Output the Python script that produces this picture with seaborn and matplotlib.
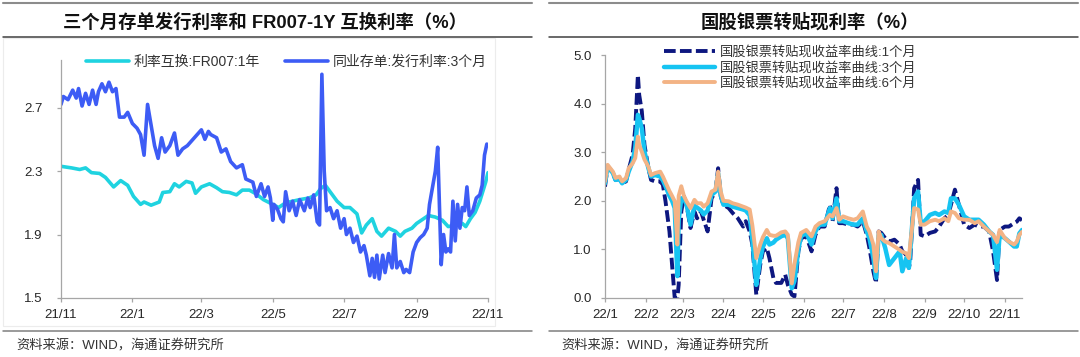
import matplotlib
matplotlib.use("Agg")
import matplotlib.pyplot as plt
from matplotlib.lines import Line2D
from matplotlib.patches import Rectangle
import seaborn as sns
import pandas as pd

# ---- left panel: FR007 1Y swap vs 3M NCD issuance rate ----
swap_label = "利率互换:FR007:1年"
swap_dates = [
    "2021-11-01", "2021-11-10", "2021-11-17", "2021-11-22", "2021-11-27", "2021-12-04",
    "2021-12-09", "2021-12-16", "2021-12-22", "2021-12-28", "2022-01-02", "2022-01-08",
    "2022-01-11", "2022-01-17", "2022-01-24", "2022-01-27", "2022-02-02", "2022-02-06",
    "2022-02-10", "2022-02-16", "2022-02-21", "2022-02-24", "2022-03-01", "2022-03-08",
    "2022-03-14", "2022-03-19", "2022-03-25", "2022-03-31", "2022-04-05", "2022-04-11",
    "2022-04-17", "2022-04-23", "2022-05-01", "2022-05-06", "2022-05-12", "2022-05-18",
    "2022-05-24", "2022-06-01", "2022-06-07", "2022-06-11", "2022-06-15", "2022-06-19",
    "2022-06-25", "2022-07-01", "2022-07-06", "2022-07-12", "2022-07-16", "2022-07-20",
    "2022-07-25", "2022-07-29", "2022-08-02", "2022-08-08", "2022-08-14", "2022-08-18",
    "2022-08-22", "2022-08-28", "2022-09-01", "2022-09-07", "2022-09-11", "2022-09-17",
    "2022-09-23", "2022-09-28", "2022-10-04", "2022-10-10", "2022-10-13", "2022-10-17",
    "2022-10-21", "2022-10-25", "2022-10-30", "2022-11-01",
]
swap_vals = [
    2.33, 2.32, 2.31, 2.32, 2.29, 2.285,
    2.26, 2.20, 2.24, 2.21, 2.14, 2.09,
    2.105, 2.085, 2.105, 2.165, 2.17, 2.22,
    2.20, 2.235, 2.225, 2.16, 2.20, 2.22,
    2.195, 2.17, 2.165, 2.15, 2.18, 2.18,
    2.155, 2.12, 2.09, 2.07, 2.10, 2.11,
    2.12, 2.13, 2.15, 2.19, 2.21, 2.17,
    2.11, 2.07, 2.07, 2.03, 1.91, 1.96,
    2.00, 1.92, 1.89, 1.94, 1.92, 1.89,
    1.92, 1.94, 1.97, 2.00, 2.02, 2.01,
    1.99, 1.95, 1.96, 1.97, 1.95, 2.00,
    2.04, 2.11, 2.23, 2.29,
]

ncd_label = "同业存单:发行利率:3个月"
ncd_dates = [
    "2021-11-01", "2021-11-03", "2021-11-07", "2021-11-11", "2021-11-14", "2021-11-16",
    "2021-11-19", "2021-11-22", "2021-11-25", "2021-11-28", "2021-12-01", "2021-12-03",
    "2021-12-06", "2021-12-09", "2021-12-12", "2021-12-15", "2021-12-18", "2021-12-21",
    "2021-12-25", "2021-12-28", "2022-01-01", "2022-01-05", "2022-01-08", "2022-01-11",
    "2022-01-14", "2022-01-17", "2022-01-20", "2022-01-23", "2022-01-26", "2022-01-29",
    "2022-02-02", "2022-02-06", "2022-02-09", "2022-02-13", "2022-02-17", "2022-02-23",
    "2022-03-01", "2022-03-04", "2022-03-07", "2022-03-09", "2022-03-14", "2022-03-18",
    "2022-03-22", "2022-03-26", "2022-03-31", "2022-04-05", "2022-04-08", "2022-04-14",
    "2022-04-17", "2022-04-21", "2022-04-24", "2022-04-27", "2022-04-29", "2022-05-01",
    "2022-05-02", "2022-05-05", "2022-05-08", "2022-05-10", "2022-05-12", "2022-05-15",
    "2022-05-18", "2022-05-21", "2022-05-24", "2022-05-28", "2022-05-31", "2022-06-02",
    "2022-06-05", "2022-06-08", "2022-06-10", "2022-06-12", "2022-06-14", "2022-06-16",
    "2022-06-19", "2022-06-22", "2022-06-25", "2022-06-28", "2022-07-01", "2022-07-03",
    "2022-07-06", "2022-07-09", "2022-07-12", "2022-07-15", "2022-07-18", "2022-07-20",
    "2022-07-23", "2022-07-25", "2022-07-27", "2022-07-29", "2022-07-31", "2022-08-03",
    "2022-08-05", "2022-08-08", "2022-08-11", "2022-08-13", "2022-08-15", "2022-08-18",
    "2022-08-21", "2022-08-23", "2022-08-26", "2022-08-29", "2022-09-01", "2022-09-04",
    "2022-09-07", "2022-09-10", "2022-09-12", "2022-09-17", "2022-09-19", "2022-09-22",
    "2022-09-24", "2022-09-26", "2022-09-28", "2022-09-30", "2022-10-02", "2022-10-04",
    "2022-10-06", "2022-10-08", "2022-10-10", "2022-10-12", "2022-10-14", "2022-10-16",
    "2022-10-19", "2022-10-22", "2022-10-25", "2022-10-27", "2022-10-29", "2022-10-31",
]
ncd_vals = [
    2.72, 2.77, 2.75, 2.81, 2.76, 2.82,
    2.71, 2.79, 2.72, 2.81, 2.72, 2.80,
    2.85, 2.80, 2.86, 2.80, 2.82, 2.64,
    2.64, 2.67, 2.60, 2.57, 2.53, 2.40,
    2.72, 2.59, 2.46, 2.38, 2.51, 2.42,
    2.46, 2.54, 2.40, 2.44, 2.46, 2.51,
    2.56, 2.50, 2.55, 2.53, 2.51, 2.42,
    2.44, 2.36, 2.32, 2.34, 2.25, 2.23,
    2.14, 2.22, 2.14, 2.20, 2.13, 1.99,
    2.09, 2.06, 2.00, 1.98, 2.17, 2.05,
    2.11, 2.02, 2.12, 2.05, 2.13, 2.07,
    2.15, 1.98, 1.96, 2.91, 2.30, 2.05,
    2.07, 2.00, 2.05, 1.94, 2.00, 1.90,
    1.94, 1.85, 1.89, 1.79, 1.83, 1.77,
    1.64, 1.75, 1.63, 1.77, 1.62, 1.77,
    1.66, 1.78, 1.69, 1.90, 1.69, 1.73,
    1.66, 1.68, 1.66, 1.79, 1.85, 1.88,
    1.90, 1.94, 2.09, 2.30, 2.45, 1.71,
    1.90, 1.79, 1.81, 1.79, 2.11, 1.86,
    2.09, 1.94, 2.07, 2.05, 2.20, 2.02,
    2.05, 2.13, 2.15, 2.21, 2.40, 2.47,
]
left_yticks = [1.5, 1.9, 2.3, 2.7]
left_xtick_dates = ["2021-11-01", "2022-01-01", "2022-03-01", "2022-05-01",
                    "2022-07-01", "2022-09-01", "2022-11-01"]
left_xtick_labels = ["21/11", "22/1", "22/3", "22/5", "22/7", "22/9", "22/11"]

# ---- right panel: bill rediscount yields ----
m1_label = "国股银票转贴现收益率曲线:1个月"
m3_label = "国股银票转贴现收益率曲线:3个月"
m6_label = "国股银票转贴现收益率曲线:6个月"
r_dates = [
    "2022-01-01", "2022-01-03", "2022-01-07", "2022-01-09", "2022-01-12", "2022-01-14",
    "2022-01-17", "2022-01-19", "2022-01-22", "2022-01-24", "2022-01-26", "2022-01-27",
    "2022-01-29", "2022-01-31",
    "2022-02-03", "2022-02-05", "2022-02-08", "2022-02-12", "2022-02-14", "2022-02-16",
    "2022-02-19", "2022-02-21", "2022-02-23", "2022-02-25", "2022-02-26", "2022-02-28",
    "2022-03-02", "2022-03-04", "2022-03-07", "2022-03-10", "2022-03-12", "2022-03-15",
    "2022-03-17", "2022-03-20", "2022-03-23", "2022-03-26", "2022-03-28", "2022-03-30",
    "2022-04-01", "2022-04-05", "2022-04-08", "2022-04-12", "2022-04-16", "2022-04-18",
    "2022-04-21", "2022-04-23", "2022-04-25", "2022-04-26", "2022-04-29",
    "2022-05-01", "2022-05-04", "2022-05-06", "2022-05-09", "2022-05-11", "2022-05-15",
    "2022-05-18", "2022-05-20", "2022-05-23", "2022-05-25", "2022-05-28", "2022-05-30",
    "2022-06-03", "2022-06-07", "2022-06-10", "2022-06-13", "2022-06-17", "2022-06-21",
    "2022-06-23", "2022-06-26", "2022-06-28",
    "2022-07-01", "2022-07-05", "2022-07-09", "2022-07-12", "2022-07-16", "2022-07-19",
    "2022-07-21", "2022-07-24", "2022-07-26", "2022-07-28", "2022-07-30",
    "2022-08-02", "2022-08-05", "2022-08-09", "2022-08-13", "2022-08-15", "2022-08-18",
    "2022-08-20", "2022-08-21", "2022-08-24", "2022-08-27", "2022-08-29",
    "2022-09-01", "2022-09-05", "2022-09-09", "2022-09-12", "2022-09-16", "2022-09-19",
    "2022-09-21", "2022-09-24", "2022-09-27",
    "2022-10-01", "2022-10-05", "2022-10-09", "2022-10-12", "2022-10-16", "2022-10-20",
    "2022-10-23", "2022-10-26", "2022-10-28",
    "2022-11-01", "2022-11-04", "2022-11-08", "2022-11-10", "2022-11-12", "2022-11-14",
]
m1_vals = [
    2.29, 2.71, 2.57, 2.43, 2.45, 2.36, 2.40, 2.64, 2.95, 3.49, 4.59, 4.18, 3.84, 3.15,
    2.67, 2.43, 2.40, 2.40, 2.33, 1.99, 1.37, 0.68, 0.00, 0.00, 0.27, 1.78,
    2.09, 1.92, 1.44, 1.78, 1.64, 1.78, 1.61, 1.37, 2.05, 2.19, 2.67, 2.09,
    1.92, 1.85, 1.75, 1.64, 1.47, 1.58, 1.37, 1.10, 0.41, 0.07, 0.68,
    0.96, 1.03, 0.82, 0.41, 0.31, 0.31, 0.48, 0.27, 0.07, 0.03, 0.96, 1.23,
    1.27, 0.96, 1.30, 1.47, 1.47, 1.92, 1.58, 2.26, 1.54,
    1.54, 1.51, 1.51, 1.47, 1.58, 1.30, 1.03, 0.55, 0.31, 1.37, 1.34,
    1.23, 1.16, 1.20, 1.10, 0.96, 0.89, 0.62, 0.75, 2.26, 2.43, 1.30,
    1.27, 1.34, 1.37, 1.47, 1.64, 1.71, 1.92, 2.23, 1.92,
    1.51, 1.44, 1.51, 1.47, 1.47, 1.37, 0.96, 0.37, 1.40,
    1.47, 1.47, 1.54, 1.57, 1.64, 1.60,
]
m3_vals = [
    2.36, 2.71, 2.57, 2.43, 2.45, 2.36, 2.43, 2.60, 2.81, 3.10, 3.77, 3.70, 3.49, 3.01,
    2.67, 2.50, 2.53, 2.50, 2.42, 2.30, 2.10, 2.00, 1.85, 0.45, 1.60, 2.05,
    2.05, 1.92, 1.51, 1.90, 1.86, 1.80, 1.72, 1.80, 2.12, 2.19, 2.57, 2.12,
    1.92, 1.92, 1.88, 1.85, 1.82, 1.80, 1.70, 1.20, 0.60, 0.27, 0.80,
    1.05, 1.23, 1.10, 1.14, 1.20, 1.27, 1.30, 1.23, 0.20, 0.35, 1.00, 1.27,
    1.34, 1.10, 1.37, 1.51, 1.51, 1.85, 1.64, 2.05, 1.58,
    1.58, 1.54, 1.51, 1.51, 1.64, 1.37, 1.23, 0.82, 0.41, 1.30, 1.30,
    1.03, 0.68, 0.82, 0.96, 0.55, 0.82, 0.62, 0.96, 2.05, 2.19, 1.54,
    1.58, 1.71, 1.75, 1.71, 1.78, 1.75, 2.05, 2.05, 1.92,
    1.68, 1.61, 1.61, 1.61, 1.51, 1.37, 1.30, 0.58, 1.30,
    1.23, 1.16, 1.06, 1.06, 1.33, 1.40,
]
m6_vals = [
    2.40, 2.74, 2.60, 2.47, 2.50, 2.40, 2.47, 2.67, 2.77, 2.88, 3.32, 3.15, 3.01, 2.85,
    2.70, 2.53, 2.57, 2.60, 2.50, 2.38, 2.20, 2.10, 1.99, 1.10, 2.10, 2.30,
    2.10, 1.99, 1.85, 2.02, 1.95, 1.95, 1.88, 1.95, 2.19, 2.23, 2.60, 2.19,
    2.00, 1.99, 1.95, 1.92, 1.88, 1.86, 1.82, 1.50, 1.05, 0.82, 1.10,
    1.25, 1.40, 1.30, 1.28, 1.28, 1.35, 1.37, 1.30, 0.30, 0.70, 1.15, 1.34,
    1.40, 1.27, 1.47, 1.54, 1.58, 1.71, 1.68, 1.85, 1.61,
    1.68, 1.64, 1.61, 1.64, 1.78, 1.47, 1.37, 1.10, 0.55, 1.37, 1.23,
    1.16, 1.13, 1.06, 0.99, 0.95, 0.92, 0.82, 1.10, 1.85, 1.82, 1.51,
    1.51, 1.58, 1.61, 1.58, 1.64, 1.58, 1.78, 1.75, 1.64,
    1.61, 1.61, 1.54, 1.58, 1.47, 1.37, 1.30, 1.15, 1.40,
    1.23, 1.16, 1.10, 1.16, 1.30, 1.36,
]
right_yticks = [0, 1, 2, 3, 4, 5]
right_xtick_dates = pd.date_range("2022-01-01", "2022-11-01", freq="MS")
right_xtick_labels = ["22/1", "22/2", "22/3", "22/4", "22/5", "22/6",
                      "22/7", "22/8", "22/9", "22/10", "22/11"]

left_title = "三个月存单发行利率和 FR007-1Y 互换利率（%）"
right_title = "国股银票转贴现利率（%）"
source = "资料来源：WIND，海通证券研究所"

# long-form tables for seaborn
left_df = pd.concat([
    pd.DataFrame({"date": pd.to_datetime(swap_dates), "rate": swap_vals, "series": swap_label}),
    pd.DataFrame({"date": pd.to_datetime(ncd_dates), "rate": ncd_vals, "series": ncd_label}),
])
right_df = pd.DataFrame({"date": pd.to_datetime(r_dates), m1_label: m1_vals,
                         m3_label: m3_vals, m6_label: m6_vals})
right_df = right_df.melt(id_vars="date", var_name="series", value_name="rate")

sns.set_theme(style="white")
plt.rcParams["font.family"] = ["Liberation Sans", "Noto Sans CJK SC"]
plt.rcParams["axes.unicode_minus"] = False

W, H = 1080, 357
fig = plt.figure(figsize=(W / 100, H / 100), dpi=100)


def px_box(l, t, r, b):
    return [l / W, 1 - b / H, (r - l) / W, (b - t) / H]


def hline(x0, x1, y, color, lw):
    fig.add_artist(Line2D([x0 / W, x1 / W], [1 - y / H, 1 - y / H],
                          transform=fig.transFigure, color=color, lw=lw))


# faint frame around left chart area
fig.add_artist(Rectangle((3 / W, 1 - 326 / H), 492 / W, 288 / H, transform=fig.transFigure,
                         fill=False, edgecolor="#ececec", lw=0.8))

ax1 = fig.add_axes(px_box(61, 60, 488, 298))
ax2 = fig.add_axes(px_box(605, 55, 1022, 298))

sns.lineplot(data=left_df, x="date", y="rate", hue="series",
             hue_order=[swap_label, ncd_label],
             palette=["#1fd3e0", "#3d5cf5"], linewidth=2.6, errorbar=None, ax=ax1)

sns.lineplot(data=right_df, x="date", y="rate", hue="series", style="series", size="series",
             hue_order=[m1_label, m3_label, m6_label],
             palette=["#0d1780", "#16c4f2", "#f3b385"],
             dashes={m1_label: (3, 1.1), m3_label: "", m6_label: ""},
             sizes={m1_label: 2.8, m3_label: 3.2, m6_label: 2.8},
             errorbar=None, ax=ax2)

for ax in (ax1, ax2):
    sns.despine(ax=ax)
    for s in ("left", "bottom"):
        ax.spines[s].set_color("#a6a6a6")
        ax.spines[s].set_linewidth(0.9)
    ax.tick_params(axis="both", direction="out", length=3, width=0.9, color="#a6a6a6",
                   labelsize=9.5, labelcolor="#262626", bottom=True, left=True)
    ax.tick_params(axis="x", pad=5)
    ax.set_xlabel("")
    ax.set_ylabel("")
    ax.grid(False)

ax1.set_xlim(pd.Timestamp("2021-11-01"), pd.Timestamp("2022-11-01"))
ax1.set_ylim(1.5, 3.0)
ax1.set_yticks(left_yticks)
ax1.set_yticklabels([f"{v:.1f}" for v in left_yticks])
ax1.set_xticks(pd.to_datetime(left_xtick_dates))
ax1.set_xticklabels(left_xtick_labels)
ax1.tick_params(axis="y", pad=10)

ax2.set_xlim(pd.Timestamp("2022-01-01"), pd.Timestamp("2022-11-14"))
ax2.set_ylim(0, 5)
ax2.set_yticks(right_yticks)
ax2.set_yticklabels([f"{v:.1f}" for v in right_yticks])
ax2.set_xticks(right_xtick_dates)
ax2.set_xticklabels(right_xtick_labels)
ax2.tick_params(axis="y", pad=6.5)

sns.move_legend(ax1, "upper left", bbox_to_anchor=(86 / W, 1 - 55 / H),
                bbox_transform=fig.transFigure, ncol=2, frameon=False, title=None,
                fontsize=10, handlelength=3.1, handletextpad=0.35, columnspacing=1.8,
                borderpad=0, borderaxespad=0)
sns.move_legend(ax2, "upper left", bbox_to_anchor=(664 / W, 1 - 46 / H),
                bbox_transform=fig.transFigure, ncol=1, frameon=False, title=None,
                fontsize=9.5, handlelength=3.9, handletextpad=0.3, labelspacing=0.2,
                borderpad=0, borderaxespad=0)
for ax in (ax1, ax2):
    for t in ax.get_legend().get_texts():
        t.set_color("#333333")

# titles, rules and source notes
fig.text(265 / W, 1 - 22.5 / H, left_title, ha="center", va="center",
         fontsize=13.2, fontweight="bold", color="#111111")
fig.text(810 / W, 1 - 22.5 / H, right_title, ha="center", va="center",
         fontsize=13.2, fontweight="bold", color="#111111")
hline(3, 532, 2.7, "#8c8c8c", 1.5)
hline(549, 1078, 2.7, "#8c8c8c", 1.5)
hline(3, 532, 36.7, "#404040", 1.1)
hline(549, 1078, 36.7, "#404040", 1.1)
hline(3, 532, 330.7, "#7f7f7f", 1.1)
hline(549, 1078, 330.7, "#7f7f7f", 1.1)
fig.text(16 / W, 1 - 346 / H, source, ha="left", va="center", fontsize=9.5, color="#333333")
fig.text(561 / W, 1 - 346 / H, source, ha="left", va="center", fontsize=9.5, color="#333333")

fig.savefig("out.png", dpi=100)
